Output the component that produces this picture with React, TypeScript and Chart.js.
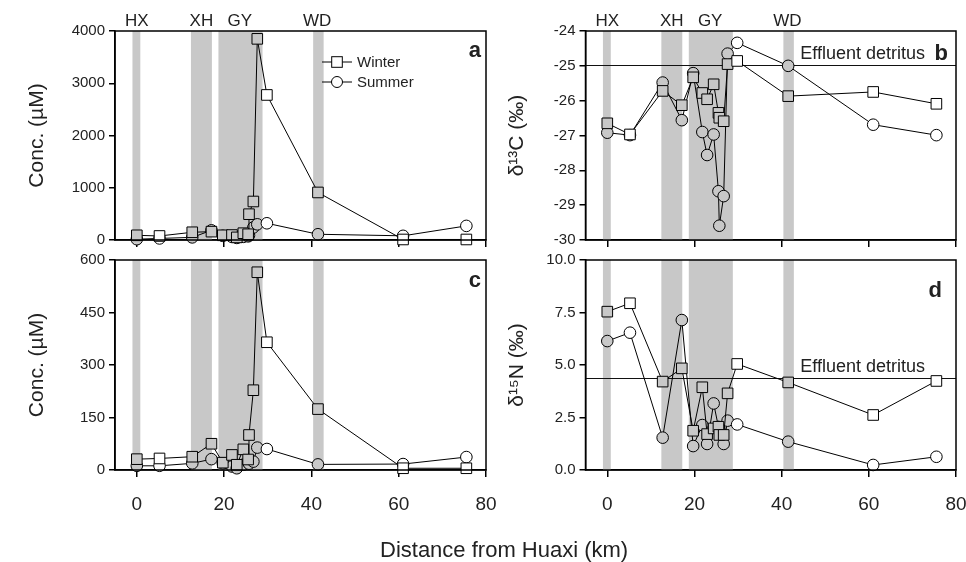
import React, { useEffect, useRef } from 'react';
import { Chart, registerables } from 'chart.js';

Chart.register(...registerables);

// ---------------- data ----------------
const distanceKm = [0, 5.2, 12.7, 17.1, 19.7, 21.8, 22.9, 24.4, 25.5, 25.7, 26.7, 27.6, 29.8, 41.5, 61, 75.5];
const seriesLabels = ['Winter', 'Summer'];

// panel a: concentration (µM)
const winterA = [90, 77, 148, 160, 90, 95, 50, 130, 110, 494, 737, 3850, 2776, 910, 10, 10];
const summerA = [15, 30, 50, 185, 80, 60, 40, 60, 70, 90, 240, 300, 320, 110, 80, 270];
// panel b: δ13C (‰)
const winterB = [-26.65, -26.97, -25.72, -26.13, -25.33, -25.78, -25.96, -25.53, -26.35, -26.49, -26.59, -24.95, -24.86, -25.87, -25.75, -26.09];
const summerB = [-26.92, -26.99, -25.48, -26.56, -25.21, -26.9, -27.56, -26.97, -28.6, -29.59, -28.74, -24.65, -24.34, -25.0, -26.69, -26.99];
// panel c: concentration (µM)
const winterC = [31, 33, 38, 75, 21, 43, 15, 59, 30, 100, 228, 565, 365, 174, 5, 5];
const summerC = [12, 12, 19, 31, 19, 10, 5, 15, 22, 18, 24, 64, 60, 16, 17, 37];
// panel d: δ15N (‰)
const winterD = [7.54, 7.94, 4.21, 4.84, 1.87, 3.94, 1.71, 1.98, 2.06, 1.67, 1.67, 3.65, 5.05, 4.17, 2.62, 4.24];
const summerD = [6.14, 6.54, 1.54, 7.14, 1.14, 2.14, 1.24, 3.17, 2.05, 1.95, 1.24, 2.35, 2.17, 1.35, 0.24, 0.63];

const effluentLabel = 'Effluent detritus';
const effluentC13 = -24.97;
const effluentN15 = 4.37;

const bandNames = ['HX', 'XH', 'GY', 'WD'];
const bandStart = [-1, 12.4, 18.7, 40.4];
const bandEnd = [0.8, 17.2, 28.8, 42.8];
const bandLabelKm = [0, 14.8, 23.6, 41.3];

const xMin = -5;
const xMax = 80;
const xTicks = [0, 20, 40, 60, 80];
const ticksA = [0, 1000, 2000, 3000, 4000];
const ticksB = [-30, -29, -28, -27, -26, -25, -24];
const ticksC = [0, 150, 300, 450, 600];
const ticksD = [0, 2.5, 5, 7.5, 10];

const xTitle = 'Distance from Huaxi (km)';
const concTitle = 'Conc. (\u00b5M)';
const c13Title = '\u03b4\u00b9\u00b3C (\u2030)';
const n15Title = '\u03b4\u00b9\u2075N (\u2030)';

// ---------------- styling ----------------
const W = 966;
const H = 562;
const FONT = '"Liberation Sans", Arial, Helvetica, sans-serif';
const TEXT = '#222';
const BAND = '#c8c8c8';

function inBand(x: number) {
  return bandStart.some((s, i) => x >= s && x <= bandEnd[i]);
}

type PanelCfg = {
  area: { left: number; right: number; top: number; bottom: number };
  yw: number;
  xh: number;
  yMin: number;
  yMax: number;
  yTicks: number[];
  yDecimals: number;
  yTitle: string;
  winter: number[];
  summer: number[];
  xLabels: boolean;
  letter: string;
  letterDx: number;
  letterDy: number;
  effluent?: number;
  legend?: boolean;
  stations?: boolean;
};

const panels: PanelCfg[] = [
  {
    area: { left: 115, right: 486, top: 31, bottom: 240 },
    yw: 90, xh: 10, yMin: 0, yMax: 4000, yTicks: ticksA, yDecimals: 0, yTitle: concTitle,
    winter: winterA, summer: summerA, xLabels: false, letter: 'a', letterDx: 5, letterDy: 20,
    legend: true, stations: true,
  },
  {
    area: { left: 585.5, right: 956, top: 31, bottom: 240 },
    yw: 81, xh: 10, yMin: -30, yMax: -24, yTicks: ticksB, yDecimals: 0, yTitle: c13Title,
    winter: winterB, summer: summerB, xLabels: false, letter: 'b', letterDx: 8, letterDy: 23,
    effluent: effluentC13, stations: true,
  },
  {
    area: { left: 115, right: 486, top: 260, bottom: 470 },
    yw: 90, xh: 50, yMin: 0, yMax: 600, yTicks: ticksC, yDecimals: 0, yTitle: concTitle,
    winter: winterC, summer: summerC, xLabels: true, letter: 'c', letterDx: 5, letterDy: 21,
  },
  {
    area: { left: 585.5, right: 956, top: 260, bottom: 470 },
    yw: 81, xh: 50, yMin: 0, yMax: 10, yTicks: ticksD, yDecimals: 1, yTitle: n15Title,
    winter: winterD, summer: summerD, xLabels: true, letter: 'd', letterDx: 14, letterDy: 31,
    effluent: effluentN15,
  },
];

function makePlugin(p: PanelCfg) {
  return {
    id: 'panelDecor',
    beforeDatasetsDraw(chart: any) {
      const { ctx, chartArea: ca, scales } = chart;
      const x = scales.x;
      const y = scales.y;
      ctx.save();
      ctx.beginPath();
      ctx.rect(ca.left, ca.top, ca.right - ca.left, ca.bottom - ca.top);
      ctx.clip();
      ctx.fillStyle = BAND;
      bandStart.forEach((s, i) => {
        const x0 = x.getPixelForValue(s);
        const x1 = x.getPixelForValue(bandEnd[i]);
        ctx.fillRect(x0, ca.top, x1 - x0, ca.bottom - ca.top);
      });
      if (p.effluent !== undefined) {
        const py = Math.round(y.getPixelForValue(p.effluent)) + 0.5;
        ctx.beginPath();
        ctx.moveTo(ca.left, py);
        ctx.lineTo(ca.right, py);
        ctx.strokeStyle = '#111';
        ctx.lineWidth = 1.2;
        ctx.stroke();
      }
      ctx.restore();
    },
    afterDraw(chart: any) {
      const { ctx, chartArea: ca, scales } = chart;
      const x = scales.x;
      const y = scales.y;
      ctx.save();
      ctx.strokeStyle = '#000';
      ctx.lineWidth = 1.5;
      ctx.strokeRect(ca.left, ca.top, ca.right - ca.left, ca.bottom - ca.top);

      ctx.fillStyle = TEXT;
      ctx.font = `bold 22px ${FONT}`;
      ctx.textAlign = 'right';
      ctx.textBaseline = 'middle';
      ctx.fillText(p.letter, ca.right - p.letterDx, ca.top + p.letterDy);

      if (p.effluent !== undefined) {
        ctx.font = `18px ${FONT}`;
        ctx.textAlign = 'right';
        ctx.textBaseline = 'middle';
        ctx.fillText(effluentLabel, ca.right - 31, y.getPixelForValue(p.effluent) - 11);
      }

      if (p.stations) {
        ctx.font = `17px ${FONT}`;
        ctx.textAlign = 'center';
        ctx.textBaseline = 'middle';
        bandNames.forEach((n, i) => {
          ctx.fillText(n, x.getPixelForValue(bandLabelKm[i]), ca.top - 10);
        });
      }

      if (p.legend) {
        const cx = ca.left + 222;
        seriesLabels.forEach((lab, i) => {
          const cy = ca.top + 31 + i * 20;
          ctx.beginPath();
          ctx.moveTo(cx - 15, cy);
          ctx.lineTo(cx + 15, cy);
          ctx.strokeStyle = '#000';
          ctx.lineWidth = 1;
          ctx.stroke();
          ctx.fillStyle = '#fff';
          if (i === 0) {
            ctx.fillRect(cx - 5.3, cy - 5.3, 10.6, 10.6);
            ctx.strokeRect(cx - 5.3, cy - 5.3, 10.6, 10.6);
          } else {
            ctx.beginPath();
            ctx.arc(cx, cy, 5.5, 0, Math.PI * 2);
            ctx.fill();
            ctx.stroke();
          }
          ctx.fillStyle = TEXT;
          ctx.font = `15px ${FONT}`;
          ctx.textAlign = 'left';
          ctx.textBaseline = 'middle';
          ctx.fillText(lab, cx + 20, cy + 1);
        });
      }
      ctx.restore();
    },
  };
}

function makeChart(canvas: HTMLCanvasElement, p: PanelCfg) {
  const mk = (vals: number[]) => distanceKm.map((x, i) => ({ x, y: vals[i] }));
  const bg = (c: any) => (c.raw && inBand(c.raw.x) ? BAND : '#ffffff');
  const common = {
    borderColor: '#000',
    borderWidth: 1,
    pointBorderColor: '#000',
    pointBorderWidth: 1,
    pointBackgroundColor: bg,
    pointHoverRadius: 0,
    tension: 0,
    clip: false as any,
    fill: false,
  };
  return new Chart(canvas, {
    type: 'line',
    data: {
      datasets: [
        { ...common, label: seriesLabels[0], data: mk(p.winter), pointStyle: 'rect', pointRadius: 7.5 },
        { ...common, label: seriesLabels[1], data: mk(p.summer), pointStyle: 'circle', pointRadius: 5.8 },
      ],
    },
    options: {
      responsive: false,
      animation: false,
      devicePixelRatio: 1,
      events: [],
      layout: {
        padding: {
          left: p.area.left - p.yw,
          right: W - p.area.right,
          top: p.area.top,
          bottom: H - p.area.bottom - p.xh,
        },
      },
      plugins: { legend: { display: false }, tooltip: { enabled: false } },
      scales: {
        x: {
          type: 'linear',
          min: xMin,
          max: xMax,
          afterBuildTicks: (s: any) => {
            s.ticks = xTicks.map((v) => ({ value: v }));
          },
          afterFit: (s: any) => {
            s.height = p.xh;
            s.paddingLeft = 0;
            s.paddingRight = 0;
          },
          ticks: {
            display: p.xLabels,
            font: { family: FONT, size: 19 },
            color: TEXT,
            padding: 16,
            maxRotation: 0,
            callback: (v: any) => String(v),
          },
          grid: { display: true, drawOnChartArea: false, drawTicks: true, tickLength: 7, color: '#000', lineWidth: 1.5 },
          border: { display: true, color: '#000', width: 1.5 },
        },
        y: {
          type: 'linear',
          min: p.yMin,
          max: p.yMax,
          afterBuildTicks: (s: any) => {
            s.ticks = p.yTicks.map((v) => ({ value: v }));
          },
          afterFit: (s: any) => {
            s.width = p.yw;
            s.paddingTop = 0;
            s.paddingBottom = 0;
          },
          ticks: {
            font: { family: FONT, size: 15 },
            color: TEXT,
            padding: 4,
            callback: (v: any) => Number(v).toFixed(p.yDecimals),
          },
          grid: { display: true, drawOnChartArea: false, drawTicks: true, tickLength: 6, color: '#000', lineWidth: 1.5 },
          border: { display: true, color: '#000', width: 1.5 },
          title: {
            display: true,
            text: p.yTitle,
            color: TEXT,
            font: { family: FONT, size: 21 },
            padding: { top: 0, bottom: 0 },
          },
        },
      },
    } as any,
    plugins: [makePlugin(p)],
  });
}

export default function App() {
  const refs = [useRef<HTMLCanvasElement>(null), useRef<HTMLCanvasElement>(null), useRef<HTMLCanvasElement>(null), useRef<HTMLCanvasElement>(null)];
  useEffect(() => {
    const charts = panels.map((p, i) => makeChart(refs[i].current as HTMLCanvasElement, p));
    return () => charts.forEach((c) => c.destroy());
  }, []);
  return (
    <div style={{ position: 'fixed', left: 0, top: 0, width: W, height: H, background: '#fff', overflow: 'hidden' }}>
      {panels.map((_, i) => (
        <canvas key={i} ref={refs[i]} width={W} height={H} style={{ position: 'absolute', left: 0, top: 0, width: W, height: H }} />
      ))}
      <div
        style={{
          position: 'absolute',
          left: 380,
          top: 538,
          fontFamily: FONT,
          fontSize: 22,
          lineHeight: '24px',
          color: TEXT,
          whiteSpace: 'nowrap',
        }}
      >
        {xTitle}
      </div>
    </div>
  );
}
